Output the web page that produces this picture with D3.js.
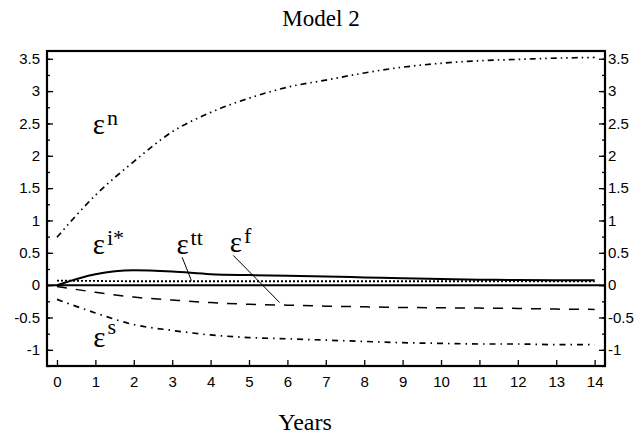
<!DOCTYPE html>
<html>
<head>
    <script src="https://cdn.jsdelivr.net/npm/d3@7"></script>
</head>

<style>
    body { margin: 0; background: #fff; }
    .tick text { font-family: "Liberation Sans", Arial, sans-serif; font-size: 15px; fill: #000; }
    .tick line { stroke: #000; stroke-width: 1.3px; }
    .series { fill: none; stroke: #000; }
    .lbl { font-family: "Liberation Serif", "Times New Roman", serif; fill: #000; }
</style>

<body>
<div id="chart"></div>

<script>

    // data (years 0..14)
    var years = d3.range(0, 15);
    var epsN  = [0.74, 1.39, 1.91, 2.37, 2.67, 2.89, 3.06, 3.17, 3.28, 3.37, 3.43, 3.47, 3.49, 3.51, 3.52];
    var epsI  = [0.00, 0.17, 0.23, 0.21, 0.17, 0.155, 0.145, 0.135, 0.12, 0.105, 0.095, 0.085, 0.08, 0.077, 0.075];
    var epsTT = [0.07, 0.065, 0.06, 0.06, 0.06, 0.06, 0.06, 0.06, 0.06, 0.06, 0.06, 0.06, 0.06, 0.06, 0.06];
    var epsF  = [-0.02, -0.11, -0.185, -0.23, -0.27, -0.295, -0.31, -0.325, -0.335, -0.345, -0.35, -0.355, -0.36, -0.37, -0.375];
    var epsS  = [-0.22, -0.43, -0.61, -0.70, -0.77, -0.81, -0.83, -0.85, -0.87, -0.89, -0.90, -0.91, -0.91, -0.92, -0.92];

    var yTicks = [-1, -0.5, 0, 0.5, 1, 1.5, 2, 2.5, 3, 3.5];
    var yMinor = d3.range(-1.25, 3.6, 0.25);

    var width = 558;
    var height = 315;
    var padding = { left: 47, top: 51 };

    var xScale = d3.scaleLinear().domain([-0.26, 14.27]).range([0, width]);
    var yScale = d3.scaleLinear().domain([-1.25, 3.62]).range([height, 0]);

    var svg = d3.select('#chart').append('svg')
        .attr('width', 642)
        .attr('height', 438);

    svg.append('text')
        .attr('class', 'lbl')
        .attr('x', 321).attr('y', 26)
        .attr('text-anchor', 'middle')
        .style('font-size', '23px')
        .text('Model 2');

    svg.append('text')
        .attr('class', 'lbl')
        .attr('x', 305).attr('y', 430)
        .attr('text-anchor', 'middle')
        .style('font-size', '24px')
        .text('Years');

    var g = svg.append('g')
        .attr('transform', 'translate(' + padding.left + ', ' + padding.top + ')');

    // axes, ticks pointing inward
    var fmt = function(d) { return String(d); };

    g.append('g')
        .call(d3.axisLeft(yScale).tickValues(yTicks).tickFormat(fmt).tickSize(-6).tickPadding(7))
        .call(function(a) { a.select('.domain').remove(); });
    g.append('g')
        .call(d3.axisLeft(yScale).tickValues(yMinor).tickFormat('').tickSize(-3))
        .call(function(a) { a.select('.domain').remove(); });

    g.append('g')
        .attr('transform', 'translate(' + width + ',0)')
        .call(d3.axisRight(yScale).tickValues(yTicks).tickFormat(fmt).tickSize(-6).tickPadding(3))
        .call(function(a) { a.select('.domain').remove(); });
    g.append('g')
        .attr('transform', 'translate(' + width + ',0)')
        .call(d3.axisRight(yScale).tickValues(yMinor).tickFormat('').tickSize(-3))
        .call(function(a) { a.select('.domain').remove(); });

    g.append('g')
        .attr('transform', 'translate(0,' + height + ')')
        .call(d3.axisBottom(xScale).tickValues(years).tickFormat(fmt).tickSize(-6).tickPadding(10))
        .call(function(a) { a.select('.domain').remove(); });

    // frame
    g.append('rect')
        .attr('width', width)
        .attr('height', height)
        .attr('fill', 'none')
        .attr('stroke', 'black')
        .attr('stroke-width', 2.2);

    // zero line
    g.append('line')
        .attr('stroke', 'black')
        .attr('stroke-width', 2)
        .attr('x1', 0).attr('x2', width)
        .attr('y1', yScale(0)).attr('y2', yScale(0));

    var pen = d3.line()
        .curve(d3.curveMonotoneX)
        .x(function(d, i) { return xScale(years[i]); })
        .y(function(d) { return yScale(d); });

    var series = [
        { values: epsN,  dash: '6,4,1.5,4,1.5,4', w: 1.7 },
        { values: epsI,  dash: null,              w: 2 },
        { values: epsTT, dash: '2,2',             w: 1.8 },
        { values: epsF,  dash: '10,9',            w: 1.5 },
        { values: epsS,  dash: '6,5,1.5,5',       w: 1.7 }
    ];

    g.selectAll('path.series')
        .data(series)
        .enter()
        .append('path')
        .attr('class', 'series')
        .attr('d', function(d) { return pen(d.values); })
        .attr('stroke-width', function(d) { return d.w; })
        .attr('stroke-dasharray', function(d) { return d.dash; });

    // labels
    var labels = [
        { sup: 'n',  x: 0.93, y: 2.34,  rise: 9 },
        { sup: 'i*', x: 0.93, y: 0.485, rise: 9 },
        { sup: 'tt', x: 3.11, y: 0.485, rise: 9 },
        { sup: 'f',  x: 4.50, y: 0.51,  rise: 9 },
        { sup: 's',  x: 0.945, y: -0.96, rise: 13 }
    ];

    var t = g.selectAll('text.lbl')
        .data(labels)
        .enter()
        .append('text')
        .attr('class', 'lbl')
        .attr('x', function(d) { return xScale(d.x); })
        .attr('y', function(d) { return yScale(d.y); })
        .style('font-size', '29px');
    t.append('tspan').text('\u03b5');
    t.append('tspan')
        .attr('dx', 2)
        .attr('dy', function(d) { return -d.rise; })
        .style('font-size', '22px')
        .text(function(d) { return d.sup; });

    // leader lines
    var leaders = [
        { x1: 3.26, y1: 0.43, x2: 3.5, y2: 0.07 },
        { x1: 4.59, y1: 0.46, x2: 5.8, y2: -0.27 }
    ];

    g.selectAll('line.leader')
        .data(leaders)
        .enter()
        .append('line')
        .attr('class', 'leader')
        .attr('stroke', 'black')
        .attr('stroke-width', 1)
        .attr('x1', function(d) { return xScale(d.x1); })
        .attr('y1', function(d) { return yScale(d.y1); })
        .attr('x2', function(d) { return xScale(d.x2); })
        .attr('y2', function(d) { return yScale(d.y2); });

</script>
</body>
</html>
